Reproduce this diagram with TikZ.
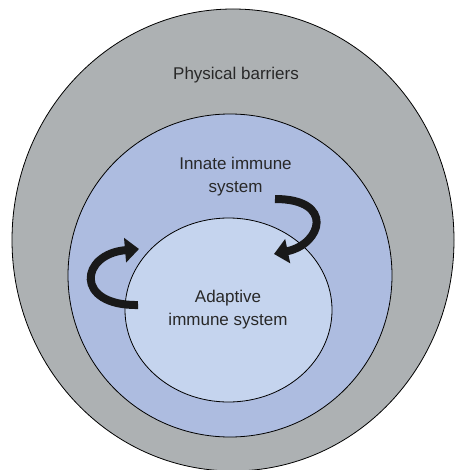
\documentclass[tikz,border=0pt]{standalone}
\usepackage{fontspec}
\setmainfont{Liberation Sans}
\usepackage{tikz}
\usetikzlibrary{arrows.meta, positioning, calc}

\definecolor{barriergray}{RGB}{173,177,179}
\definecolor{innateblue}{RGB}{173,188,224}
\definecolor{adaptiveblue}{RGB}{197,212,238}
\definecolor{labelgray}{RGB}{40,40,40}

\begin{document}
\begin{tikzpicture}[x=1pt, y=-1pt, >=Stealth,
    layer/.style={draw=black, line width=0.8pt},
    lbl/.style={font=\fontsize{17}{23}\selectfont, text=labelgray, align=center, inner sep=0pt},
    loop/.style={line width=8pt, -{Triangle[length=14pt, width=24pt]}, black!90}]

      \useasboundingbox (0,0) rectangle (455,470);
      \clip (0,0) rectangle (455,470);

      % --- Nested Layers ---
      \draw[layer, fill=barriergray] (233,240) ellipse (221 and 231);
      \draw[layer, fill=innateblue] (230,275.5) ellipse (162 and 161.5);
      \draw[layer, fill=adaptiveblue] (228.5,310) ellipse (103.5 and 92);

      % --- Labels ---
      \node[lbl] (barriers) at (236,75) {Physical barriers};
      \node[lbl] (innate) at (235.5,177) {Innate immune\\system};
      \node[lbl] (adaptive) at (228,310) {Adaptive\\immune system};

      % --- Feedback Arrows ---
      \coordinate (innatetail) at (275,199);
      \coordinate (innatetip) at (274,254);
      \coordinate (adaptivetail) at (138,305);
      \coordinate (adaptivetip) at (139,249);

      \draw[loop] (innatetail) .. controls (335,199) and (322,244) .. (innatetip);
      \draw[loop] (adaptivetail) .. controls (74,306) and (80,254) .. (adaptivetip);

    \end{tikzpicture}
\end{document}
